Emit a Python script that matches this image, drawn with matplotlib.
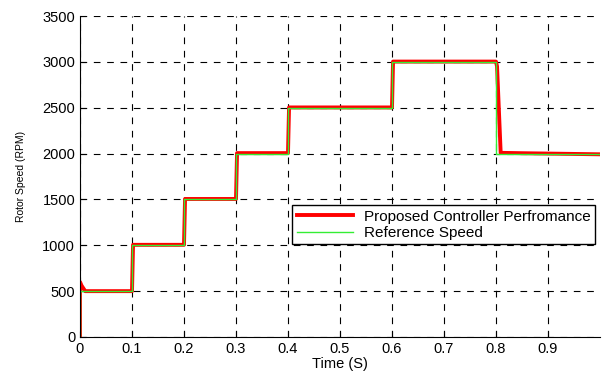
import matplotlib
matplotlib.use("Agg")
import matplotlib.pyplot as plt

plt.rcParams['font.family'] = ['Liberation Sans', 'DejaVu Sans']

# reference speed (RPM) vs time (s)
ref_t = [0, 0, 0.1, 0.1, 0.2, 0.2, 0.3, 0.3, 0.4, 0.4, 0.6, 0.6, 0.8, 0.8, 1.0]
ref_speed = [0, 500, 500, 1000, 1000, 1500, 1500, 2000, 2000, 2500, 2500, 3000, 3000, 2000, 2000]

# rotor speed with the proposed controller
act_t = [0, 0, 0.003, 0.010, 0.1, 0.102, 0.2, 0.202, 0.3, 0.302, 0.4, 0.402,
         0.6, 0.602, 0.8, 0.802, 0.809, 0.85, 1.0]
act_speed = [0, 600, 560, 500, 500, 1005, 1005, 1505, 1505, 2005, 2005, 2503,
             2503, 3003, 3003, 2950, 2008, 2004, 1992]

fig = plt.figure(figsize=(6.05, 3.71), dpi=100)
ax = fig.add_axes([80 / 605, 34 / 371, 520 / 605, 321 / 371])

ax.plot(act_t, act_speed, color='#ff0000', lw=2.8, label='Proposed Controller Perfromance')
ax.plot(ref_t, ref_speed, color='#33ee33', lw=1.0, label='Reference Speed')

ax.set_xlim(0, 1.0)
ax.set_ylim(0, 3500)
ax.set_xticks([0, 0.1, 0.2, 0.3, 0.4, 0.5, 0.6, 0.7, 0.8, 0.9])
ax.set_xticklabels(['0', '0.1', '0.2', '0.3', '0.4', '0.5', '0.6', '0.7', '0.8', '0.9'])
ax.set_yticks(range(0, 3501, 500))
ax.tick_params(direction='in', labelsize=10.5, length=4, top=False, right=False)

ax.grid(True, color='black', linestyle=(0, (6, 6)), linewidth=0.8)
ax.spines['top'].set_visible(False)
ax.spines['right'].set_visible(False)

ax.set_xlabel('Time (S)', fontsize=10.5, labelpad=1)
ax.set_ylabel('Rotor Speed (RPM)', fontsize=7.5, labelpad=12)

leg = ax.legend(loc='upper left', bbox_to_anchor=(212 / 520, 132 / 321), fontsize=11,
                frameon=True, fancybox=False, framealpha=1, edgecolor='black',
                borderpad=0.3, handlelength=3.7, handletextpad=0.7,
                labelspacing=0.15, borderaxespad=0)
leg.get_frame().set_linewidth(1.0)

fig.savefig('out.png', dpi=100)
